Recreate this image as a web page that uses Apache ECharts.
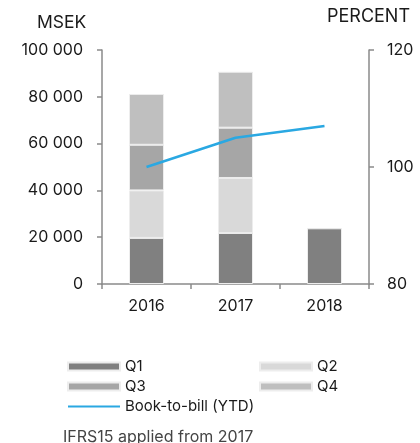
<!DOCTYPE html>
<html>
<head>
<meta charset="utf-8">
<script src="https://cdn.jsdelivr.net/npm/echarts@6/dist/echarts.min.js"></script>
<style>html,body{margin:0;padding:0;background:#fff}#c{width:420px;height:443px}</style>
</head>
<body>
<div id="c"></div>
<script>
const categories = ['2016', '2017', '2018'];
const q1 = [19700, 21800, 23800];
const q2 = [20300, 23500, null];
const q3 = [19500, 21500, null];
const q4 = [21700, 23900, null];
const bookToBill = [100, 105, 107];
const leftTicks = { min: 0, max: 100000, interval: 20000 };
const rightTicks = { min: 80, max: 120, interval: 20 };

const FONT = 'Inter';
const fmt = v => String(v).replace(/\B(?=(\d{3})+(?!\d))/g, ' ');
const chart = echarts.init(document.getElementById('c'));
const axisColor = '#8a8a8a';
const barBase = { type: 'bar', stack: 'q', barWidth: 35, yAxisIndex: 0,
  itemStyle: { borderColor: '#ededed', borderWidth: 1 } };
chart.setOption({
  animation: false,
  textStyle: { fontFamily: FONT },
  grid: { left: 102, right: 51, top: 50, bottom: 159 },
  graphic: [
    { type: 'text', left: 37, top: 14, style: { text: 'MSEK', font: '17.5px ' + FONT, fill: '#1a1a1a' } },
    { type: 'text', left: 327, top: 8, style: { text: 'PERCENT', font: '18px ' + FONT, fill: '#1a1a1a' } },
    { type: 'text', left: 63, top: 429, style: { text: 'IFRS15 applied from 2017', font: '16px ' + FONT, fill: '#444' } }
  ],
  legend: [
    { left: 67, top: 359, orient: 'vertical', padding: 0, itemWidth: 52, itemHeight: 8, itemGap: 5,
      textStyle: { fontFamily: FONT, fontSize: 15, color: '#1a1a1a' },
      data: [{ name: 'Q1', icon: 'rect' }, { name: 'Q3', icon: 'rect' },
             { name: 'Book-to-bill (YTD)', itemStyle: { opacity: 0 } }] },
    { left: 259, top: 359, orient: 'vertical', padding: 0, itemWidth: 52, itemHeight: 8, itemGap: 5,
      textStyle: { fontFamily: FONT, fontSize: 15, color: '#1a1a1a' },
      data: [{ name: 'Q2', icon: 'rect' }, { name: 'Q4', icon: 'rect' }] }
  ],
  xAxis: {
    type: 'category', data: categories,
    axisLine: { lineStyle: { color: axisColor, width: 1.5 } },
    axisTick: { show: true, length: 5, lineStyle: { color: axisColor, width: 1.5 } },
    axisLabel: { color: '#1a1a1a', fontSize: 16, margin: 14, fontFamily: FONT }
  },
  yAxis: [
    { type: 'value', min: leftTicks.min, max: leftTicks.max, interval: leftTicks.interval,
      splitLine: { show: false },
      axisLine: { show: true, lineStyle: { color: axisColor, width: 1.5 } },
      axisTick: { show: true, length: 5, lineStyle: { color: axisColor, width: 1.5 } },
      axisLabel: { color: '#1a1a1a', fontSize: 16, margin: 19, fontFamily: FONT, formatter: fmt } },
    { type: 'value', min: rightTicks.min, max: rightTicks.max, interval: rightTicks.interval,
      position: 'right', splitLine: { show: false },
      axisLine: { show: true, lineStyle: { color: axisColor, width: 1.5 } },
      axisTick: { show: true, length: 5, lineStyle: { color: axisColor, width: 1.5 } },
      axisLabel: { color: '#1a1a1a', fontSize: 16, margin: 18, fontFamily: FONT } }
  ],
  series: [
    Object.assign({}, barBase, { name: 'Q1', data: q1, itemStyle: Object.assign({}, barBase.itemStyle, { color: '#808080' }) }),
    Object.assign({}, barBase, { name: 'Q2', data: q2, itemStyle: Object.assign({}, barBase.itemStyle, { color: '#d9d9d9' }) }),
    Object.assign({}, barBase, { name: 'Q3', data: q3, itemStyle: Object.assign({}, barBase.itemStyle, { color: '#a6a6a6' }) }),
    Object.assign({}, barBase, { name: 'Q4', data: q4, itemStyle: Object.assign({}, barBase.itemStyle, { color: '#bfbfbf' }) }),
    { name: 'Book-to-bill (YTD)', type: 'line', yAxisIndex: 1, data: bookToBill,
      symbol: 'none', lineStyle: { color: '#2aa8e2', width: 2.5 }, itemStyle: { color: '#2aa8e2' } }
  ]
});
</script>
</body>
</html>
